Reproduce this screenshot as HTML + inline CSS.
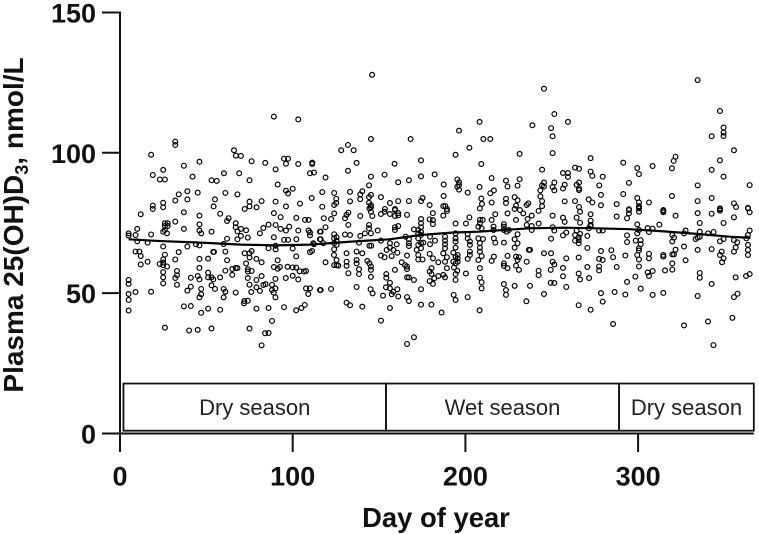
<!DOCTYPE html>
<html lang="en">
<head>
<meta charset="utf-8">
<title>Plasma 25(OH)D3 by day of year</title>
<style>
html,body{margin:0;padding:0;background:#fff;}
svg{display:block;font-family:"Liberation Sans",Arial,sans-serif;}
</style>
</head>
<body>
<svg id="chart" width="759" height="534" viewBox="0 0 759 534" xmlns="http://www.w3.org/2000/svg">
  <text transform="translate(23 225) rotate(-90)" text-anchor="middle" font-size="28" font-weight="700" fill="#111">Plasma 25(OH)D<tspan font-size="18" dy="5">3</tspan><tspan dy="-5">, nmol/L</tspan></text>
  <text x="436" y="527" text-anchor="middle" font-size="27.4" font-weight="700" fill="#111">Day of year</text>
</svg>
<script>
const xTicks = [0, 100, 200, 300];
const yTicks = [0, 50, 100, 150];
const seasonNames = ["Dry season", "Wet season", "Dry season"];
const seasonStarts = [2, 154, 289];
const seasonEnds = [154, 289, 367];
const trendDays = [5, 25, 47, 70, 90, 110, 135, 156, 174, 193, 208, 222, 237, 257, 276, 295, 315, 334, 353, 365];
const trendValues = [69.2, 68.5, 68, 67.3, 67, 67.3, 68.4, 69.2, 70.7, 71.6, 71.9, 72.5, 73.1, 73.3, 73.1, 72.8, 72, 71.1, 70.1, 69.7];
const days = [
89.1,103.2,32,32,18,66,67.1,70,46,76.2,
84.1,95,97.3,96.1,103.2,111.3,111.3,37,25,90.1,
110,112.3,19,60.2,69,42,23.1,26,53,56,
75,91.3,96.1,100,97.3,39,34,45,61,68,
55,39,32,111,25,19,25,19,54.2,75,
82,90.1,104.2,75,79.1,72.2,96.1,
12,37,46,58,89.1,93,102.1,107.1,109.2,62.9,
62,32,26,27.6,26,27.6,46,67,67,90.1,
86,83,98,93,96.1,37,70,73,68,10,
25,26,46,47,53,27.2,5,5,9,18,
81,103.2,109.2,110,110,115.8,70,74,62,68,
89.1,95,97.3,102.1,115.8,10,16,60,25,39,
44,46,90.1,90.1,86,100,112.3,111.2,110,9,
11.2,12,34,54,54.4,61,72.2,75,76.2,75,
26,102,46,51,25,32,62,79,82,91.3,
16,12,23,25,25,73,27.2,46,89.1,91.3,
92.6,97,100,102,104,106.5,107.7,65,67,68,
61,74,74,76.2,25,33,51,65,74,100,
96,103.2,90,82,79,33,32,25,25,41,
45,46,51,53,54,58,5,5,33,75,
88,83,84.3,41,53,47,39,55,79,90,
60,61,88,89,76,81,107.7,110,109,115.8,
67,5,9,18,47,46,90,60,5,72,
74,71.8,37,41,51,58,79,86,95,107,
105,102,5,47,88,26,40,45,53,75,
84,86,82,
146,208.2,196.3,145.3,168.3,210.4,214.4,132,128.1,135.3,
202.3,194.3,231.4,137,174.3,159,209.2,132,119,145.3,
153.2,174.3,182.2,161.1,167.3,144.2,187.4,195.3,196.3,196.3,
195.3,196.3,215.2,223.5,224.4,231.4,230.2,208.2,216.5,214.4,
201.3,117.1,124,133.2,140.3,139.1,139.1,145.3,144.2,151.1,
187.4,125.2,125.2,124,133.2,144.2,145.3,145.3,156.3,161.1,
167.3,175.2,174.3,179.3,187.2,188.4,189.3,209.2,209.6,208.4,
215.2,223.5,223.5,228.5,230.2,229.3,228.5,235.5,236.4,117.1,
153.4,159.2,
124,118,122.2,119,116.2,132.2,131.2,130.3,132.2,139.1,
146.1,145.3,144.4,151.1,153.2,156.3,159.2,161.1,159.2,161.1,
166.2,174.3,174.3,174.3,174.3,181.2,179.3,181.2,181.2,187.2,
189.3,200.3,202.3,194.3,208.4,210,208.4,207.5,209.4,217.3,
215.2,216.3,216.3,224.4,229.3,233.5,231.6,222.3,222.3,222.3,
223.9,225.2,236,235.5,144.2,144.2,141.8,145.3,139.1,149.2,
130.3,133.2,124,124,125.4,125.4,124,125.4,124,123.9,
159.2,161.1,159.2,170.2,172.7,172.7,174.3,165.4,167.3,151.1,
138.4,156.3,160.2,156.3,158.3,160.6,154.4,144.4,145.5,116.2,
117.7,111.9,167.3,167.3,172.7,174.3,175.6,172.7,174.3,171.8,
172.7,182.4,179.5,179.5,179.3,181.2,184.3,188.2,188.2,188.2,
188.2,187.2,189.3,188.2,189.3,187.2,188.2,194.3,194.3,194.3,
194.3,193,194.3,193,194.3,193.4,195.3,194.3,194.3,195.5,
195.5,195.5,201.3,201.3,202.6,202.6,202.6,202.6,201.3,200.3,
207.5,210.2,208.4,208.4,208.4,209.4,207.5,208.4,216.5,217.3,
216.5,215.2,222.3,222.3,222.3,224.4,224.4,230.2,228.5,230.2,
228.5,229.3,231,230.2,229.3,231,235.5,236.8,131.2,137,
140.3,137,137,131.2,131.2,132.2,119,124,125.4,126.4,
125.4,143.2,144.4,145.3,145.3,138.4,138.4,145.3,151.1,153.2,
157.3,166.2,163.1,165,166.2,166.2,159.2,172.7,175.2,180.4,
179.3,180.4,182,184.3,179.3,181.2,154.2,154.2,156.3,154,
156.3,160.6,158.3,157.3,161.1,166.2,167.3,170.2,137,122.2,
116.2,145.1,146.3,152.3,174.3,166.2,167.3,174.3,180.3,186.2,
193.2,194.3,201.3,208.4,209.4,209.4,208.2,222.3,223.5,223.5,
228.5,235.3,131.2,133.2,140.3,156.3,151.1,170.2,166.2,
334.5,245.5,251.5,347.4,259.4,238.8,249.6,250.5,349.5,349.5,
349.5,342.6,355.5,250.5,272.5,321.7,320.6,319.6,291.4,347.4,
308.4,299.5,300.5,342.6,244.4,263.5,265.8,256.5,259.4,259.4,
272.5,273.5,279.5,349.5,245.5,244.4,245.5,243.4,251.5,250.5,
251.5,257.5,256.5,265.8,264.4,265.8,265.8,277.5,278.5,294.7,
291.4,334.5,364.6,243.4,244.4,244.4,257.5,263.5,265.8,271.4,
273.5,278.5,287.6,299.5,300.5,300.5,300.5,306.3,319.6,334.5,
342.6,355.5,356.7,363.6,347.4,314.6,294.7,
242.4,250.5,256.5,257.5,264.4,266.4,266.4,272.5,272.5,272.5,
287.6,293.6,294.7,294.7,300.5,300.5,314.6,314.6,321.7,334.5,
342.6,347.4,347.4,355.5,349.5,335.7,363.6,364.6,299.5,312.3,
242.4,238.4,238.4,238.4,250.5,251.5,271.4,272.5,264.4,266.4,
263.5,265.6,263.5,265.6,265.6,249.6,270.6,258.4,256.5,277.4,
279.5,300.5,299.5,305.5,306.3,308.4,293.6,293.6,298.6,301.5,
301.5,300.5,300.5,319.8,320.8,319.8,321.7,326.6,327.5,326.6,
334.5,335.7,335.7,334.5,333.3,340.5,343.7,347.4,349.5,355.5,
357.4,356.5,355.5,362.7,363.6,364.6,363.6,363.6,363.6,342.6,
348.4,347.4,349.5,348.6,356.5,237.4,245.5,249.6,250.5,251.5,
258.4,265.6,270.6,278.5,284.5,285.5,292.6,277.4,279.5,270.6,
277.4,277.4,287.6,299.5,300.5,306.3,306.3,314.6,314.6,319.8,
320.8,327.5,319.8,319.8,315.6,300.5,305.5,308.4,306.3,242.4,
242.4,249.4,256.5,256.5,265.6,266.4,271.6,249.4,251.5,258.4,
237.4,298.4,293.6,301.5,335.7,335.7,342.6,364.6,362.5,245.5,
278.5,286.4,292.6,308.4,314.6,334.5,279.5,357.6,355.5,265.6,
272.5,354.6,340.5,326.6,285.5,343.6
];
const plasma = [
112.9,111.9,104,102.8,99.3,100.9,99,98.9,96.8,97,
96.4,97.9,97.9,96.1,96,96.5,96,95.4,93.9,94.1,
92.7,93,92.1,92.7,92.7,91.5,90.5,90.5,90.2,90,
90.2,88.7,86.5,87.2,85.5,86.3,85.2,85.8,85.7,85.2,
83.4,83.4,83,83.9,82.2,81.2,80.6,80,80.9,82.6,
82.8,82.6,81.9,80.9,80.6,80,80.9,
78.1,78.8,77.6,78.3,78.5,77.1,76.8,76.1,76.1,76.7,
75.7,75.5,74.9,74.9,73.9,73.9,74.5,74.9,73.5,74.3,
74.4,73.2,73.7,72.9,72.3,72.9,72.9,72.4,72,72.9,
71.9,72.5,72.3,71.3,71.9,71.3,71.3,70.5,70.7,70.9,
71.3,72.3,72.3,71.6,70.6,71.9,70.4,69.8,69.4,69.2,
69.9,69,69,69.2,69.2,68.5,68,67.5,66.6,66.6,
67.4,67,66.9,65.6,66,65.9,67.4,65,64.6,64.8,
64.8,63.2,64.6,64.7,64.7,64.8,64.2,64.2,65,62.7,
63.7,63.1,62.2,62.3,62,62,61.7,62.2,61,61.7,
61.2,60.2,60.4,60.9,60,60.6,59.5,59,59.3,58.7,
59.3,59.4,59.2,59.1,57.8,57.7,57.9,58.6,59,58.9,
58,58.5,57.7,57.9,57.5,57.9,57.3,56.5,55.4,56.2,
55.4,54.9,55.1,56.1,54.7,56.4,55.4,55.6,53.5,55.5,
56.1,54.9,55.6,55.6,54.9,55.6,54.7,53.3,53,53,
53,52.9,53.2,52.3,52.8,51.5,50.9,51.5,52.1,51.7,
51.5,50.5,51.1,50.2,50.4,50.8,51.7,51.7,49.7,51.1,
50.2,49.7,50.4,50.5,49.6,48.5,48.5,48.5,47.6,47.2,
47.3,46.4,45.3,45.4,44.5,44.1,44.5,44.7,45,45.8,
44.7,43.9,43.8,43,40.1,37.7,36.7,36.9,37.4,37.4,
35.7,35.8,31.4,
127.8,111,107.9,104.9,104.9,104.9,104.9,102.8,100.9,100.9,
101.8,99.3,99.6,96.4,97.3,96.1,96,93.6,91.2,91.5,
92.2,91.6,92.3,89.5,90.2,88.4,88.7,90.5,89.5,88.5,
87.9,86.9,91,90.1,88,90.6,88.3,87.8,86.6,85.6,
85.8,86,85.7,86.1,86.3,85.2,83.5,85,84.2,84.2,
84.6,83.6,82.1,81.4,82.7,82.2,81.3,80.6,82.1,82.8,
82.8,83.9,82.8,81.4,81,81,80,83.7,81.8,80.2,
82.3,83.6,82.1,84.2,83.1,81.2,80,81.4,82,80.8,
80,80,
78.4,76.7,76.4,73.5,71.9,78.7,77.9,76.7,74.3,77.5,
77.5,79,80.2,78.2,79,78.2,79.6,78.5,77.5,77.7,
77.9,76.4,74.9,73.5,71.9,78.5,76.3,76,74.6,77.6,
79.3,74.8,77,74.8,76.1,76.1,74.9,73.7,73.1,78.1,
76.1,73.7,72.5,78.4,76.1,78.4,79.6,74.6,73.7,72.5,
71.9,72.5,76.4,74.3,74.3,73.1,71.3,71.3,70.4,72.3,
70.9,70.7,71,69.5,69.9,68.7,67.8,67.2,65.6,63.6,
73.5,73.9,72.5,72.7,72.5,71.3,70.7,70.1,69.2,68.7,
68,67.8,67.4,66.2,65.4,64.4,65.4,66.9,66.9,69.2,
67.8,67.8,67.8,66.8,69.5,67.8,68,67.2,66,65.4,
63.6,68.7,70.1,67.4,64,62.4,61,70.1,68.7,67.4,
66,64.2,62.8,61.2,58.9,56.5,55.6,71.3,69.5,68.4,
66.2,64.4,63,61.2,60.6,59.1,58,56.8,54.7,63.6,
62.4,61.2,71,69.5,68.4,67.2,64.8,63.6,62.2,57,
69.5,69.3,67.8,66.2,64.8,63.2,61.8,58.9,69.5,68,
63,61.5,68,60.6,59.7,58.9,63.3,71,69.2,67.8,
66.2,63,62.8,61.8,59.8,58.3,61.2,65.4,64.2,64.8,
64.2,61.8,60.6,61.2,59.7,57.1,61,60,60,59.8,
61.8,61.5,60.6,59.5,58.3,58.5,56.8,55.8,63.4,62.8,
63.2,63.4,61,60,59.5,58.6,58.3,62,62,58.9,
57.7,56.8,55.3,56.1,54.3,53.3,56.8,55.5,53.7,52.1,
51.7,51.4,50.5,49.6,48.8,55.6,55.6,54.7,52.2,51.5,
51.1,51.4,49.9,49.1,51.4,48.6,47.2,45.9,45.9,43.1,
49.4,47.6,48.6,55.5,53.9,51.7,43.9,53.2,51.1,49.4,
52.6,47.1,46.6,45.7,45.2,44.7,40.2,34.3,31.9,
125.9,122.8,113.8,114.9,111,109.8,108.8,105.9,109,107.2,
106,105.9,100.9,99.9,98.1,98.6,97.1,94.5,96.5,97.3,
95.3,94.6,92.4,93.9,94,94.7,94.3,92.8,92.8,91.4,
93.3,91.8,91.5,91.5,89.4,88.4,88,86.6,89.4,87.8,
86.6,88.6,87.3,89.4,88.6,87.3,86.7,88.4,85,89.3,
85.3,88.4,88.5,84.5,82.8,81,82.7,82.8,80.7,83.4,
82.3,81.3,81.7,83.9,82.3,81,80.2,82.3,84.6,82.8,
83.9,82,80.7,80.4,80.2,79.6,79.9,
79.3,77.6,76.9,75.4,76.9,79,75.1,78.1,75.8,74.3,
77.3,76.7,79.6,78.4,80.8,79,79.3,78.8,77.6,78.5,
78.3,79.9,79.4,77,75,75,80.2,78.8,74.5,74.4,
74.8,77.6,73.9,72.5,73.5,72.3,73.1,73.9,72.3,71.1,
70.7,69.9,68.7,68.9,67.8,69.4,70.4,71.6,70.6,72.3,
72.3,72.5,71.3,73.2,71.8,73,70.6,68.2,68.7,68.9,
67.4,66,65.2,70.7,69.8,68.4,65.5,71.3,72.3,66.6,
65.4,71.9,70.1,69.8,69.3,71.3,71.8,68.5,69.3,68.9,
68.1,66.3,64.8,69.5,70.7,72.3,67.2,65.4,63.6,65.7,
64.8,63.6,62.4,61,55.6,65.4,64.2,64.2,61.2,60.2,
62.4,62.7,66.1,65,65.3,62.8,63.4,62.2,61.8,59.3,
59.5,58.1,59.3,63.6,62,64,62.4,63.6,63,63.8,
63.8,61.7,60.6,58.4,58.1,59.5,57.4,57.9,56.1,58,
56.4,58.3,59,56,57,54.9,55.4,53.7,53.6,52.2,
52.6,55.9,54,51.6,57.2,55.5,53.3,56.8,56.1,49.7,
50,50.4,49.5,49.4,50.1,49,47,49.8,48.6,45.7,
44.1,41.2,39.9,38.5,39,31.5
];

const svg = document.getElementById('chart');
const NS = 'http://www.w3.org/2000/svg';
const xScale = d => 120 + d * 1.727;
const yScale = v => 433.5 - v * 2.807;
const boxTopValue = 17.8;
const boxBottomValue = 1;

function make(tag, attrs) {
  const el = document.createElementNS(NS, tag);
  for (const k in attrs) el.setAttribute(k, attrs[k]);
  svg.appendChild(el);
  return el;
}

/* scatter points */
const pointCount = Math.min(days.length, plasma.length);
for (let i = 0; i < pointCount; i++) {
  const dot = make('circle', {cx: xScale(days[i]).toFixed(2), cy: yScale(plasma[i]).toFixed(2), r: 2.4, fill: 'none', stroke: '#000', 'stroke-width': 1.2});
  
  
}

/* trend line */
const trendPath = trendDays.map((d, i) => (i ? 'L' : 'M') + xScale(d).toFixed(1) + ' ' + yScale(trendValues[i]).toFixed(1)).join(' ');
const trend = make('path', {d: trendPath, fill: 'none', stroke: '#000', 'stroke-width': 2.2, 'stroke-linejoin': 'round'});



/* season boxes */
seasonNames.forEach((name, i) => {
  const x0 = xScale(seasonStarts[i]);
  const x1 = xScale(seasonEnds[i]);
  const yTop = yScale(boxTopValue);
  const yBot = yScale(boxBottomValue);
  const box = make('rect', {x: x0, y: yTop, width: x1 - x0, height: yBot - yTop, fill: '#fff', 'fill-opacity': 0, stroke: '#111', 'stroke-width': 1.8});
  
  
  const label = make('text', {x: (x0 + x1) / 2, y: 415, 'text-anchor': 'middle', 'font-size': 22, fill: '#222'});
  
  
  label.textContent = name;
});

/* axes */
const yAxis = make('line', {x1: xScale(0), x2: xScale(0), y1: yScale(150) - 1, y2: 452, stroke: '#111', 'stroke-width': 2});


const xAxis = make('line', {x1: 102, x2: xScale(367), y1: yScale(0), y2: yScale(0), stroke: '#111', 'stroke-width': 2});



yTicks.forEach(v => {
  const tick = make('line', {x1: 102, x2: 120, y1: yScale(v), y2: yScale(v), stroke: '#111', 'stroke-width': 2});
  
  
  const label = make('text', {x: 96, y: yScale(v) + 10, 'text-anchor': 'end', 'font-size': 27, 'font-weight': 700, fill: '#111'});
  
  
  label.textContent = v;
});
xTicks.forEach(d => {
  const tick = make('line', {x1: xScale(d), x2: xScale(d), y1: yScale(0), y2: 452, stroke: '#111', 'stroke-width': 2});
  
  
  const label = make('text', {x: xScale(d), y: 485.5, 'text-anchor': 'middle', 'font-size': 27, 'font-weight': 700, fill: '#111'});
  
  
  label.textContent = d;
});
</script>
</body>
</html>
